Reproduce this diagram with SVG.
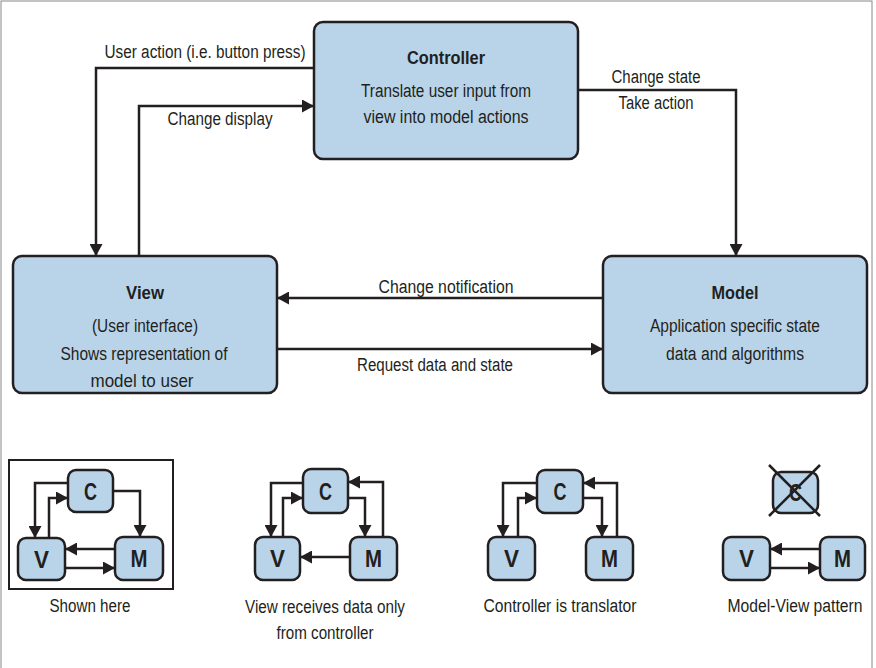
<svg xmlns="http://www.w3.org/2000/svg" width="876" height="668" viewBox="0 0 876 668">
<defs>
<style>
.box{fill:#b9d4e9;stroke:#231f20;stroke-width:2.5}
.ln{fill:none;stroke:#231f20;stroke-width:2.5}
text{font-family:"Liberation Sans","Arial",sans-serif;fill:#231f20;text-anchor:middle}
.t{font-size:18px;font-weight:bold}
.b{font-size:18px}
.s{font-size:24px;font-weight:bold}
.arr{marker-end:url(#ah)}
</style>
<marker id="ah" markerUnits="userSpaceOnUse" markerWidth="13" markerHeight="13" refX="12" refY="6.5" orient="auto">
<path d="M0,0 L12,6.5 L0,13 z" fill="#231f20"/>
</marker>
</defs>
<rect x="1" y="1" width="871" height="672" fill="#fff" stroke="#888" stroke-width="1"/>

<g id="connectors">
<polyline class="ln arr" points="314,68 96,68 96,256"/>
<polyline class="ln arr" points="139,256 139,106 314,106"/>
<polyline class="ln arr" points="578,90 736,90 736,256"/>
<line class="ln arr" x1="603" y1="298" x2="277" y2="298"/>
<line class="ln arr" x1="277" y1="349" x2="603" y2="349"/>
<text class="b" x="205" y="58" textLength="201" lengthAdjust="spacingAndGlyphs">User action (i.e. button press)</text>
<text class="b" x="220" y="125" textLength="105" lengthAdjust="spacingAndGlyphs">Change display</text>
<text class="b" x="656" y="83" textLength="89" lengthAdjust="spacingAndGlyphs">Change state</text>
<text class="b" x="656" y="109" textLength="75" lengthAdjust="spacingAndGlyphs">Take action</text>
<text class="b" x="446" y="293" textLength="135" lengthAdjust="spacingAndGlyphs">Change notification</text>
<text class="b" x="435" y="371" textLength="156" lengthAdjust="spacingAndGlyphs">Request data and state</text>
</g>

<g id="controller">
<rect class="box" x="314" y="22" width="264" height="137" rx="9"/>
<text class="t" x="446" y="64" textLength="78" lengthAdjust="spacingAndGlyphs">Controller</text>
<text class="b" x="446" y="97" textLength="170" lengthAdjust="spacingAndGlyphs">Translate user input from</text>
<text class="b" x="446" y="123" textLength="165" lengthAdjust="spacingAndGlyphs">view into model actions</text>
</g>
<g id="view">
<rect class="box" x="13" y="256" width="264" height="137" rx="9"/>
<text class="t" x="145" y="299" textLength="38" lengthAdjust="spacingAndGlyphs">View</text>
<text class="b" x="145" y="332" textLength="106" lengthAdjust="spacingAndGlyphs">(User interface)</text>
<text class="b" x="144" y="360" textLength="167" lengthAdjust="spacingAndGlyphs">Shows representation of</text>
<text class="b" x="142" y="387" textLength="103" lengthAdjust="spacingAndGlyphs">model to user</text>
</g>
<g id="model">
<rect class="box" x="603" y="256" width="264" height="137" rx="9"/>
<text class="t" x="735" y="299" textLength="47" lengthAdjust="spacingAndGlyphs">Model</text>
<text class="b" x="735" y="332" textLength="170" lengthAdjust="spacingAndGlyphs">Application specific state</text>
<text class="b" x="735" y="360" textLength="138" lengthAdjust="spacingAndGlyphs">data and algorithms</text>
</g>

<g id="shown-here">
<rect x="9" y="460" width="164" height="129" fill="none" stroke="#231f20" stroke-width="2"/>
<polyline class="ln arr" points="68,483 35,483 35,538"/>
<polyline class="ln arr" points="49,538 49,498 68,498"/>
<polyline class="ln arr" points="113,491 140,491 140,537"/>
<line class="ln arr" x1="115" y1="549" x2="65" y2="549"/>
<line class="ln arr" x1="65" y1="568" x2="115" y2="568"/>
<rect class="box" x="68" y="470" width="45" height="42" rx="8"/>
<text class="s" x="90.5" y="500" textLength="13" lengthAdjust="spacingAndGlyphs">C</text>
<rect class="box" x="18" y="538" width="47" height="42" rx="8"/>
<text class="s" x="41.5" y="568" textLength="15" lengthAdjust="spacingAndGlyphs">V</text>
<rect class="box" x="115" y="537" width="48" height="43" rx="8"/>
<text class="s" x="139" y="567" textLength="17" lengthAdjust="spacingAndGlyphs">M</text>
<text class="b" x="90" y="612" textLength="81" lengthAdjust="spacingAndGlyphs">Shown here</text>
</g>

<g id="view-receives">
<polyline class="ln arr" points="303,483 271,483 271,537"/>
<polyline class="ln arr" points="283,537 283,498 303,498"/>
<polyline class="ln arr" points="348,498 365,498 365,537"/>
<polyline class="ln arr" points="383,537 383,482 348,482"/>
<line class="ln arr" x1="350" y1="557" x2="300" y2="557"/>
<rect class="box" x="303" y="469" width="45" height="44" rx="8"/>
<text class="s" x="325.5" y="500" textLength="13" lengthAdjust="spacingAndGlyphs">C</text>
<rect class="box" x="255" y="537" width="45" height="43" rx="8"/>
<text class="s" x="277.5" y="567" textLength="15" lengthAdjust="spacingAndGlyphs">V</text>
<rect class="box" x="350" y="537" width="47" height="43" rx="8"/>
<text class="s" x="373.5" y="567" textLength="17" lengthAdjust="spacingAndGlyphs">M</text>
<text class="b" x="325" y="613" textLength="160" lengthAdjust="spacingAndGlyphs">View receives data only</text>
<text class="b" x="325" y="639" textLength="97" lengthAdjust="spacingAndGlyphs">from controller</text>
</g>

<g id="translator">
<polyline class="ln arr" points="537,483 503,483 503,537"/>
<polyline class="ln arr" points="518,537 518,498 537,498"/>
<polyline class="ln arr" points="583,498 602,498 602,537"/>
<polyline class="ln arr" points="617,537 617,483 583,483"/>
<rect class="box" x="537" y="470" width="46" height="43" rx="8"/>
<text class="s" x="560" y="500" textLength="13" lengthAdjust="spacingAndGlyphs">C</text>
<rect class="box" x="488" y="537" width="47" height="43" rx="8"/>
<text class="s" x="511.5" y="567" textLength="15" lengthAdjust="spacingAndGlyphs">V</text>
<rect class="box" x="586" y="537" width="47" height="43" rx="8"/>
<text class="s" x="609.5" y="567" textLength="17" lengthAdjust="spacingAndGlyphs">M</text>
<text class="b" x="560" y="612" textLength="153" lengthAdjust="spacingAndGlyphs">Controller is translator</text>
</g>

<g id="model-view">
<rect class="box" x="773" y="472" width="45" height="41" rx="8"/>
<text class="s" x="795.5" y="501" textLength="13" lengthAdjust="spacingAndGlyphs">C</text>
<line class="ln" x1="769" y1="465" x2="820" y2="516"/>
<line class="ln" x1="820" y1="465" x2="769" y2="516"/>
<line class="ln arr" x1="820" y1="549" x2="770" y2="549"/>
<line class="ln arr" x1="770" y1="568" x2="820" y2="568"/>
<rect class="box" x="723" y="537" width="47" height="43" rx="8"/>
<text class="s" x="746.5" y="567" textLength="15" lengthAdjust="spacingAndGlyphs">V</text>
<rect class="box" x="820" y="537" width="45" height="43" rx="8"/>
<text class="s" x="842.5" y="567" textLength="17" lengthAdjust="spacingAndGlyphs">M</text>
<text class="b" x="795" y="612" textLength="135" lengthAdjust="spacingAndGlyphs">Model-View pattern</text>
</g>
</svg>
